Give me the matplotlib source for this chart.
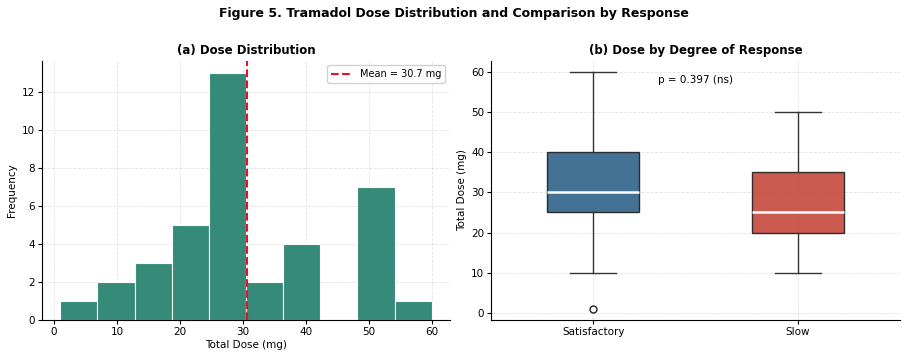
import matplotlib
matplotlib.use('Agg')
import matplotlib.pyplot as plt
import numpy as np

# Histogram bins and counts
bin_edges = np.linspace(1, 60, 11)
bin_counts = [1, 2, 3, 5, 13, 2, 4, 0, 7, 1]
mean_dose = 30.7

# Box statistics
groups = ['Satisfactory', 'Slow']
q1 = [25, 20]
medians = [30, 25]
q3 = [40, 35]
whisk_lo = [9.8, 10]
whisk_hi = [60, 50]
outliers = [[1], []]
p_value = 0.397

fig, (ax1, ax2) = plt.subplots(1, 2, figsize=(9.07, 3.56), dpi=100)
fig.subplots_adjust(left=0.046, right=0.992, top=0.83, bottom=0.1, wspace=0.1)
fig.suptitle('Figure 5. Tramadol Dose Distribution and Comparison by Response',
             fontsize=9, fontweight='bold', y=0.98)

# (a) histogram
centers = (bin_edges[:-1] + bin_edges[1:]) / 2
ax1.hist(centers, bins=bin_edges, weights=bin_counts, color='#2a8570',
         alpha=0.95, edgecolor='white', linewidth=0.8)
ax1.axvline(mean_dose, color='#e8112d', linestyle='--', linewidth=1.5,
            label=f'Mean = {mean_dose} mg')
ax1.set_title('(a) Dose Distribution', fontsize=8.5, fontweight='bold', pad=5)
ax1.set_xlabel('Total Dose (mg)', fontsize=7.5, labelpad=2)
ax1.set_ylabel('Frequency', fontsize=7.5, labelpad=3)
ax1.set_yticks([0, 2, 4, 6, 8, 10, 12])
ax1.legend(fontsize=7, loc='upper right', framealpha=0.9, handlelength=2.2)
ax1.grid(True, linestyle='--', alpha=0.35, linewidth=0.6)
ax1.set_axisbelow(True)

# (b) box plot
stats = []
for i, g in enumerate(groups):
    stats.append(dict(label=g, q1=q1[i], med=medians[i], q3=q3[i],
                      whislo=whisk_lo[i], whishi=whisk_hi[i], fliers=outliers[i]))
bp = ax2.bxp(stats, widths=0.45, patch_artist=True,
             medianprops=dict(color='white', linewidth=1.8),
             boxprops=dict(edgecolor='#1a1a1a', linewidth=1.0),
             whiskerprops=dict(color='#333333', linewidth=1.0),
             capprops=dict(color='#333333', linewidth=1.0),
             flierprops=dict(marker='o', markerfacecolor='none',
                             markeredgecolor='#222222', markersize=5))
for patch, c in zip(bp['boxes'], ['#2a5f86', '#c44436']):
    patch.set_facecolor(c)
    patch.set_alpha(0.88)
ax2.set_title('(b) Dose by Degree of Response', fontsize=8.5, fontweight='bold', pad=5)
ax2.set_ylabel('Total Dose (mg)', fontsize=7.5, labelpad=3)
ax2.text(1.5, 58, f'p = {p_value} (ns)', ha='center', va='center', fontsize=7.5)
ax2.grid(True, linestyle='--', alpha=0.35, linewidth=0.6)
ax2.set_axisbelow(True)

for ax in (ax1, ax2):
    ax.spines['top'].set_visible(False)
    ax.spines['right'].set_visible(False)
    ax.tick_params(labelsize=7.5, length=3, pad=2)

fig.savefig('out.png', dpi=100)
